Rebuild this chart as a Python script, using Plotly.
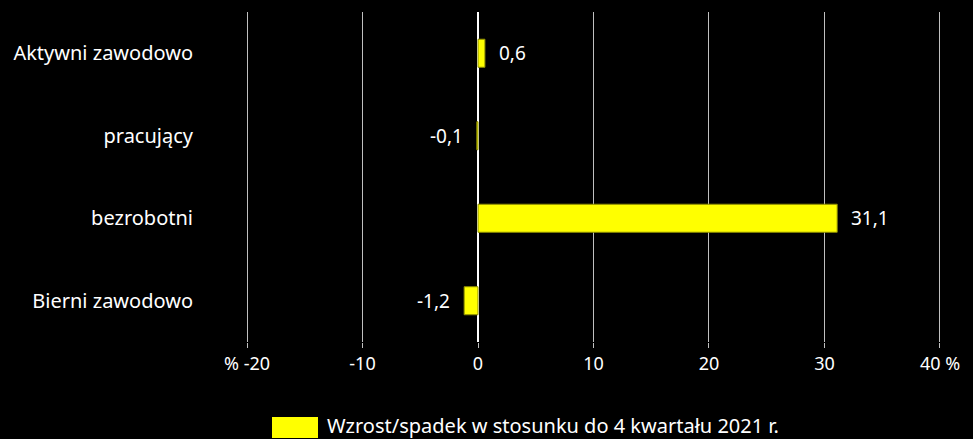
import plotly.graph_objects as go

categories = ["Aktywni zawodowo", "pracujący", "bezrobotni", "Bierni zawodowo"]
values = [0.6, -0.1, 31.1, -1.2]
series_name = "Wzrost/spadek w stosunku do 4 kwartału 2021 r."
tick_vals = [-20, -10, 0, 10, 20, 30, 40]
tick_text = ["% -20", "-10", "0", "10", "20", "30", "40 %"]

FONT = "Noto Sans"
YELLOW = "#ffff00"
T, B = 12, 97
PH = 439 - T - B
L, R = 200, 18
PW = 973 - L - R

fig = go.Figure()
fig.add_trace(go.Bar(
    y=categories, x=values, orientation="h",
    marker=dict(color=YELLOW, line=dict(color="#8c8c00", width=1)),
    width=0.34,
    name=series_name, showlegend=False, hoverinfo="x+y",
))

annotations = []
for c, v in zip(categories, values):
    annotations.append(dict(
        x=v, y=c, xref="x", yref="y", showarrow=False,
        text=f"{v:.1f}".replace(".", ","),
        xanchor="left" if v >= 0 else "right", yanchor="middle",
        xshift=12 if v >= 0 else -12,
        font=dict(size=19, color="white", family=FONT),
    ))

annotations.append(dict(xref="paper", yref="paper", x=(325 - L) / PW, y=((T + PH) - 425) / PH,
                        xanchor="left", yanchor="middle", showarrow=False,
                        text=series_name, font=dict(size=20, color="white", family=FONT)))

fig.update_layout(
    width=973, height=439,
    paper_bgcolor="black", plot_bgcolor="black",
    margin=dict(l=L, r=R, t=T, b=B),
    font=dict(family=FONT, color="white", size=18),
    xaxis=dict(
        range=[-24.07, 41.3], tickvals=tick_vals, ticktext=tick_text,
        showgrid=True, gridcolor="#c0c0c0", gridwidth=1,
        zeroline=True, zerolinecolor="white", zerolinewidth=2,
        ticks="outside", ticklen=5, tickcolor="#c0c0c0",
        tickfont=dict(size=18, color="white", family=FONT),
        ticklabelstandoff=0,
        showline=False, fixedrange=True,
    ),
    yaxis=dict(
        autorange="reversed", showgrid=False, zeroline=False,
        tickfont=dict(size=20, color="white", family=FONT),
        ticks="", ticklabelstandoff=6, fixedrange=True,
    ),
    showlegend=False,
    shapes=[dict(type="rect", xref="paper", yref="paper",
                 x0=(272 - L) / PW, x1=(318 - L) / PW,
                 y0=((T + PH) - 438) / PH, y1=((T + PH) - 417) / PH,
                 fillcolor=YELLOW, line=dict(width=0))],
    annotations=annotations,
)

fig.write_html("out.html", config={"displayModeBar": False},
               post_script="document.body.style.margin='0';document.body.style.overflow='hidden';")
